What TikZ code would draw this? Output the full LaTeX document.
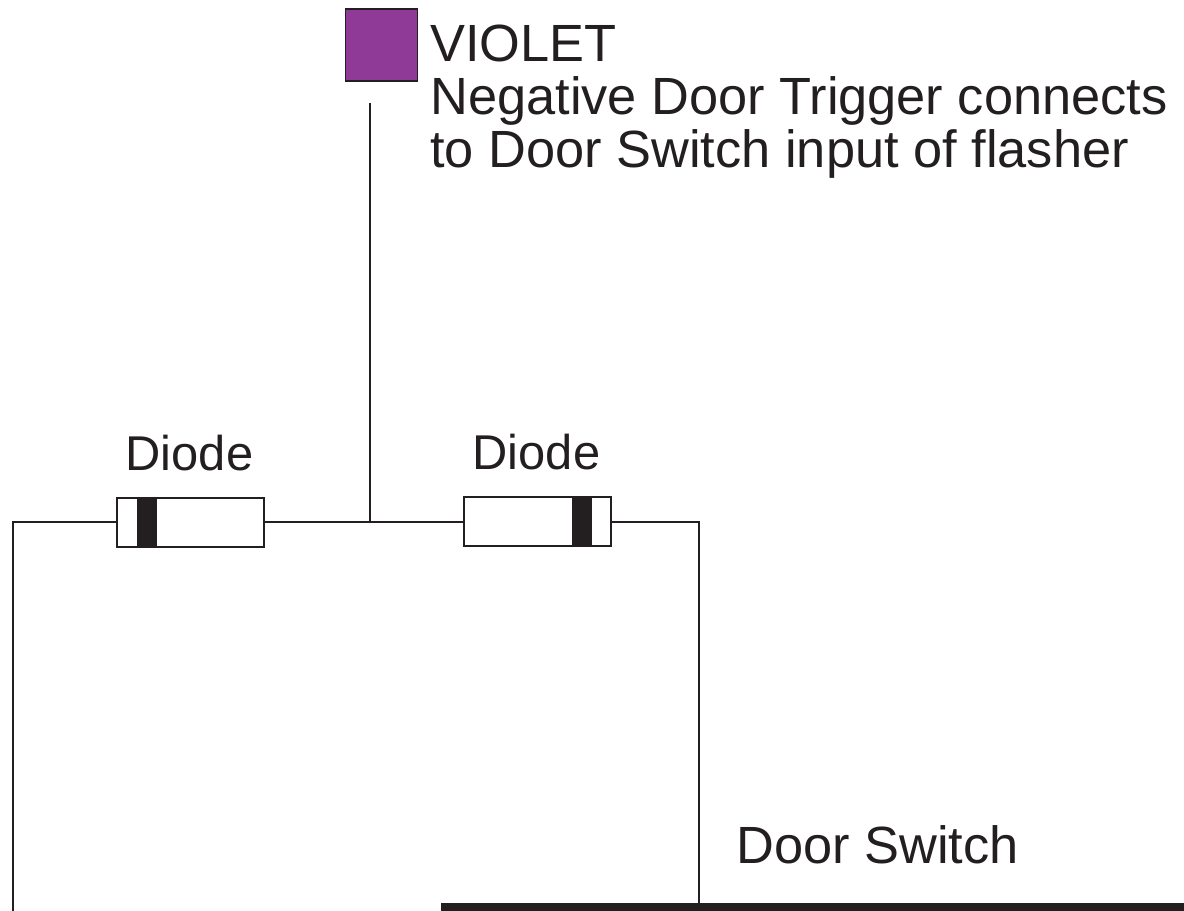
\documentclass[tikz,border=0pt]{standalone}
\usepackage{fontspec}
\setmainfont{Liberation Sans}
\definecolor{inkblack}{HTML}{231F20}
\definecolor{violetwire}{HTML}{8E3A96}
\tikzset{
  wire/.style={draw=inkblack, line width=1.6pt},
  diodebox/.style={draw=inkblack, line width=1.6pt, fill=white, minimum width=2.94cm, minimum height=0.98cm, inner sep=0pt},
  diodeband/.style={fill=inkblack, minimum width=0.4cm, minimum height=0.94cm, inner sep=0pt},
  label/.style={text=inkblack, inner sep=0pt, font=\fontsize{29.8}{30}\selectfont},
  diodelabel/.style={text=inkblack, inner sep=0pt, font=\fontsize{27.8}{30}\selectfont},
}
\begin{document}
\begin{tikzpicture}[x=0.02cm, y=-0.02cm]
     \useasboundingbox (0,0) rectangle (1184,911);
     \node[draw=inkblack, line width=0.8pt, fill=violetwire, minimum size=1.44cm, inner sep=0pt] (violet) at (381.5,45) {};
     \node[label, align=left, anchor=north west] (violetlabel) at (430,25) {VIOLET\\Negative Door Trigger connects\\to Door Switch input of flasher};
     \node[diodebox] (diodeL) at (190.5,522.5) {};
     \node[diodebox] (diodeR) at (537.5,521.5) {};
     \node[diodeband] (bandL) at (147,522.5) {};
     \node[diodeband] (bandR) at (582,521.5) {};
     \node[diodelabel, anchor=base] (diodeLlabel) at (189.5,471) {Diode};
     \node[diodelabel, anchor=base] (diodeRlabel) at (536.5,470) {Diode};
     \node[label, anchor=base west] (switchlabel) at (736,863.5) {Door Switch};
     \node[fill=inkblack, minimum width=14.86cm, minimum height=0.16cm, inner sep=0pt] (switchbar) at (812.5,907) {};
     \coordinate (junction) at (370,522);
     \coordinate (violetend) at (370,103);
     \coordinate (cornerL) at (13,522);
     \coordinate (leftend) at (13,911);
     \coordinate (cornerR) at (699,522);
     \draw[wire] (violetend) -- (junction);
     \draw[wire] (diodeL.east |- junction) -- (diodeR.west |- junction);
     \draw[wire] (leftend) -- (cornerL) -- (diodeL.west |- cornerL);
     \draw[wire] (diodeR.east |- cornerR) -- (cornerR) -- (cornerR |- switchbar.north);
\end{tikzpicture}
\end{document}
